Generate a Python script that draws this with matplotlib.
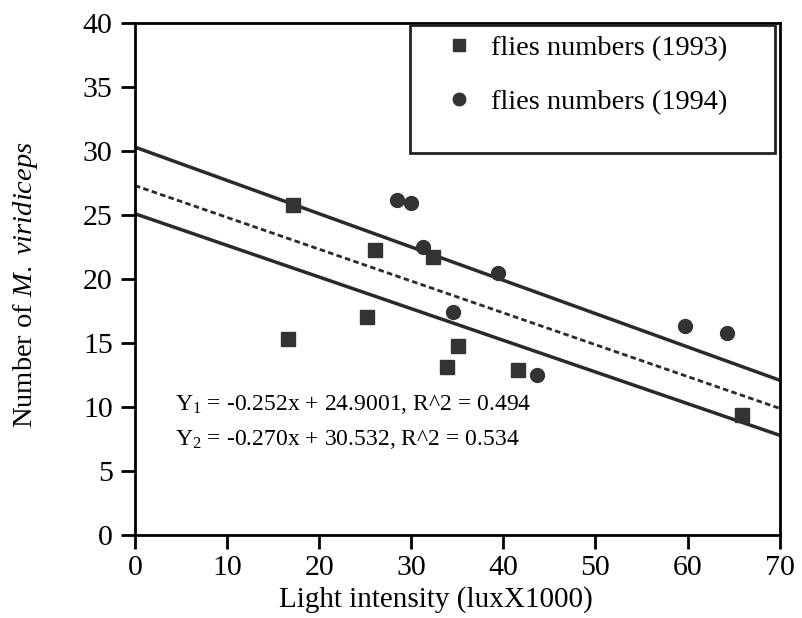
import matplotlib.pyplot as plt

plt.rcParams['font.family'] = ['Liberation Serif', 'DejaVu Serif']
plt.rcParams['mathtext.fontset'] = 'custom'
plt.rcParams['mathtext.rm'] = 'Liberation Serif'
plt.rcParams['mathtext.it'] = 'Liberation Serif:italic'

# flies numbers 1993 (squares)
x93 = [17.2, 26.1, 16.6, 25.2, 32.4, 35.1, 33.9, 41.6, 65.9]
y93 = [25.8, 22.3, 15.3, 17.0, 21.7, 14.8, 13.1, 12.9, 9.4]
# flies numbers 1994 (circles)
x94 = [28.4, 30.0, 31.3, 39.4, 34.5, 43.6, 59.7, 64.3]
y94 = [26.2, 25.9, 22.5, 20.5, 17.4, 12.5, 16.3, 15.8]

# fitted lines, read at both ends
fit_x = [0, 70]
upper_y = [30.3, 12.1]
mid_y = [27.3, 9.9]
lower_y = [25.1, 7.8]

eq1 = r"$\mathrm{Y}_1$ = -0.252x + 24.9001, R^2 = 0.494"
eq2 = r"$\mathrm{Y}_2$ = -0.270x + 30.532, R^2 = 0.534"

fig = plt.figure(figsize=(8.03, 6.18), dpi=100)
ax = fig.add_axes([0.168, 0.134, 0.803, 0.829])

ax.plot(fit_x, upper_y, color='#2a2a2a', lw=2.5)
ax.plot(fit_x, mid_y, color='#2a2a2a', lw=2, ls=(0, (2, 1.2)))
ax.plot(fit_x, lower_y, color='#2a2a2a', lw=2.5)

sq, = ax.plot(x93, y93, 's', color='#333333', ms=10, ls='none', label='flies numbers (1993)')
ci, = ax.plot(x94, y94, 'o', color='#333333', ms=10, ls='none', label='flies numbers (1994)')

ax.text(4.3, 10.2, eq1, fontsize=17, va='center')
ax.text(4.3, 7.5, eq2, fontsize=17, va='center')

ax.set_xlim(0, 70)
ax.set_ylim(0, 40)
ax.set_xticks(range(0, 71, 10))
ax.set_yticks(range(0, 41, 5))
ax.tick_params(direction='out', length=10, width=2, labelsize=21.5, pad=4)
ax.tick_params(axis='y', pad=6)
for s in ax.spines.values():
    s.set_linewidth(2)

ax.set_xlabel('Light intensity (luxX1000)', fontsize=21)
ax.xaxis.set_label_coords(0.467, -0.1)
ax.set_ylabel(r"Number of $\mathit{M.\ viridiceps}$", fontsize=20.5)
ax.yaxis.set_label_coords(-0.147, 0.49)

# legend with its own frame
rect = plt.Rectangle((0.426, 0.746), 0.566, 0.25, transform=ax.transAxes,
                     fill=False, lw=2, ec='#222222', zorder=5)
ax.add_patch(rect)
leg = ax.legend(handles=[sq, ci], loc='upper left', bbox_to_anchor=(0.437, 1.026),
                frameon=False, fontsize=20.5, labelspacing=0.98, handletextpad=0.5,
                handlelength=1.2, markerscale=0.9)

fig.savefig('out.png', dpi=100)
